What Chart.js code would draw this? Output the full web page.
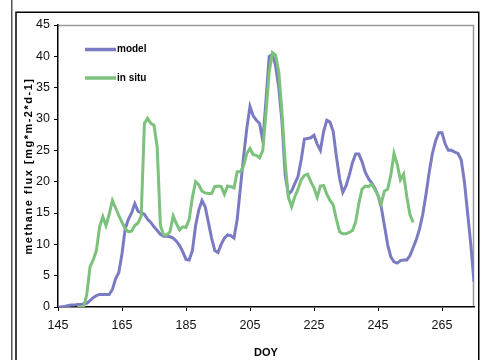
<!DOCTYPE html>
<html>
<head>
<meta charset="utf-8">
<script src="https://cdn.jsdelivr.net/npm/chart.js@4"></script>
<style>
body{margin:0;background:#fff}
canvas{display:block}
</style>
</head>
<body>
<canvas id="myGraficoMetano" width="482" height="360"></canvas>
<script>
// DOY 145..275
var modelStart = 145;
var modelValues = [
  0, 0, 0.1, 0.2, 0.3, 0.3, 0.4, 0.4, 0.5, 0.6,
  1.0, 1.5, 1.8, 2.0, 2.0, 2.0, 2.0, 2.8, 4.5, 5.5,
  8.5, 12.5, 14.0, 15.0, 16.5, 15.3, 15.0, 14.8, 14.0, 13.5,
  12.8, 12.2, 11.6, 11.3, 11.3, 11.2, 11.0, 10.5, 9.8, 8.8,
  7.6, 7.5, 9.0, 13.0, 15.5, 17.0, 16.0, 13.5, 11.0, 9.0,
  8.7, 10.0, 11.0, 11.5, 11.4, 11.0, 14.0, 19.0, 24.0, 28.5,
  32.0, 30.5, 29.8, 29.3, 26.5, 33.0, 40.0, 40.3, 38.5, 35.0,
  29.5, 21.0, 18.0, 18.5, 19.7, 20.8, 23.5, 26.8, 26.9, 27.0,
  27.4, 26.0, 25.0, 28.0, 29.8, 29.5, 28.0, 24.0, 20.5, 18.3,
  19.3, 21.0, 23.0, 24.4, 24.4, 23.2, 21.5, 20.5, 19.8, 19.0,
  17.8, 16.0, 13.0, 10.0, 8.0, 7.2, 7.0, 7.4, 7.5, 7.5,
  8.2, 9.5, 10.8, 12.5, 14.8, 18.0, 21.5, 24.5, 26.5, 27.8,
  27.8, 26.0, 25.0, 25.0, 24.7, 24.5, 23.5, 20.0, 15.0, 10.0,
  4.0
];
// DOY 151..256
var inSituStart = 151;
var inSituValues = [
  0, 0, 0, 2.0, 6.4, 7.5, 9.0, 12.8, 14.4, 13.0,
  14.8, 17.0, 15.8, 14.6, 13.5, 12.5, 12.0, 12.1, 13.0, 13.4,
  14.5, 29.3, 30.1, 29.3, 29.0, 25.5, 13.0, 11.5, 11.5, 12.0,
  14.5, 13.3, 12.3, 12.8, 12.7, 14.0, 17.5, 20.0, 19.5, 18.5,
  18.2, 18.1, 18.1, 19.2, 19.3, 19.2, 18.0, 19.3, 19.2, 19.0,
  21.6, 21.6, 22.5, 24.5, 25.3, 24.3, 24.2, 23.8, 25.0, 31.0,
  37.5, 40.6, 40.2, 37.5, 31.0, 23.0, 17.5, 16.0, 17.6, 18.8,
  20.3, 21.0, 21.2, 20.0, 19.0, 17.5, 19.3, 19.4, 18.0, 17.0,
  16.3, 14.0, 12.0, 11.7, 11.7, 11.9, 12.2, 13.5, 16.5, 18.8,
  19.3, 19.2, 19.6, 18.8, 17.8, 16.5, 18.5, 18.8, 21.0, 24.5,
  22.8, 20.3, 21.2, 17.6, 14.7, 13.5
];
var xTicks = [145, 165, 185, 205, 225, 245, 265];
var xMin = 145, xMax = 275;
var yMin = 0, yMax = 45, yStep = 5;

function pontos(inicio, valores){
  var p = [];
  for(let i=0; i<valores.length; i++){
    p.push({x: inicio+i, y: valores[i]});
  }
  return p;
}

var fonte = '"Liberation Sans", Arial, sans-serif';

var moldura = {
  id: 'moldura',
  beforeDraw: function(chart){
    var c = chart.ctx;
    c.save();
    c.fillStyle = '#fff';
    c.fillRect(0, 0, chart.width, chart.height);
    c.strokeStyle = '#555';
    c.lineWidth = 1.5;
    c.beginPath(); c.moveTo(11.75, 0); c.lineTo(11.75, 360); c.stroke();
    c.strokeStyle = '#000';
    c.lineWidth = 1.5;
    c.beginPath(); c.moveTo(16, 360); c.lineTo(16, 12.25); c.lineTo(478.75, 12.25); c.lineTo(478.75, 360); c.stroke();
    var a = chart.chartArea;
    c.strokeStyle = '#999';
    c.lineWidth = 1.5;
    c.beginPath(); c.moveTo(a.left, a.top + 0.5); c.lineTo(a.right - 0.5, a.top + 0.5); c.lineTo(a.right - 0.5, a.bottom); c.stroke();
    c.restore();
  },
  afterDraw: function(chart){
    var c = chart.ctx;
    var a = chart.chartArea;
    c.save();
    // legend inside the plot
    var ys = [49.5, 78];
    c.font = 'bold 10px ' + fonte;
    c.textBaseline = 'middle';
    c.textAlign = 'left';
    chart.data.datasets.forEach(function(ds, i){
      c.strokeStyle = ds.borderColor;
      c.lineWidth = 3.5;
      c.beginPath(); c.moveTo(85, ys[i]); c.lineTo(116, ys[i]); c.stroke();
      c.fillStyle = '#000';
      c.fillText(ds.label, 117, ys[i]);
    });
    // y title
    c.translate(29, (a.top + a.bottom) / 2);
    c.rotate(-Math.PI / 2);
    c.font = 'bold 11px ' + fonte;
    c.letterSpacing = '1.5px';
    c.textAlign = 'center';
    c.fillText('methane flux [mg*m-2*d-1]', 0, 0);
    c.restore();
  }
};

var ctx = document.getElementById('myGraficoMetano').getContext('2d');
var chart = new Chart(ctx, {
  type: 'line',
  data: {
    datasets: [{
      label: 'model',
      data: pontos(modelStart, modelValues),
      borderColor: '#7b7bc4',
      borderWidth: 3,
      pointRadius: 0,
      tension: 0,
      order: 1
    }, {
      label: 'in situ',
      data: pontos(inSituStart, inSituValues),
      borderColor: '#7cc27c',
      borderWidth: 3,
      pointRadius: 0,
      tension: 0,
      order: 0
    }]
  },
  options: {
    responsive: false,
    animation: false,
    layout: {padding: {top: 25, right: 8, left: 0, bottom: 0}},
    plugins: {legend: {display: false}, tooltip: {enabled: false}},
    scales: {
      x: {
        type: 'linear',
        min: xMin,
        max: xMax,
        afterBuildTicks: function(scale){
          scale.ticks = xTicks.map(function(v){ return {value: v}; });
        },
        afterFit: function(scale){ scale.height = 53; },
        grid: {drawOnChartArea: false, drawTicks: true, tickLength: 4, color: '#000'},
        border: {color: '#000', width: 1.5},
        ticks: {color: '#111', font: {family: fonte, size: 12.5}, padding: 7, maxRotation: 0},
        title: {display: true, text: 'DOY', color: '#000', font: {family: fonte, size: 11, weight: 'bold'}, padding: {top: 0, bottom: 0}}
      },
      y: {
        min: yMin,
        max: yMax,
        afterFit: function(scale){ scale.width = 58; },
        grid: {drawOnChartArea: false, drawTicks: true, tickLength: 4, color: '#000'},
        border: {color: '#000', width: 1.5},
        ticks: {stepSize: yStep, color: '#111', font: {family: fonte, size: 12.5}, padding: 4}
      }
    }
  },
  plugins: [moldura]
});
</script>
</body>
</html>
